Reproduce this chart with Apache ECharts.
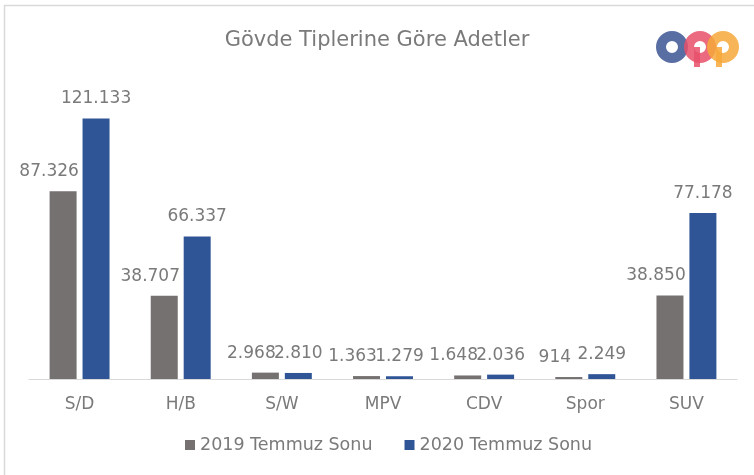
<!DOCTYPE html>
<html>
<head>
<meta charset="utf-8">
<script src="https://cdn.jsdelivr.net/npm/echarts@6/dist/echarts.min.js"></script>
<style>
  html, body { margin: 0; padding: 0; background: #fff; }
  #main { width: 754px; height: 475px; }
</style>
</head>
<body>
<div id="main"></div>
<script>
// gövde tipleri
let categories = ['S/D', 'H/B', 'S/W', 'MPV', 'CDV', 'Spor', 'SUV'];
let series_names = ['2019 Temmuz Sonu', '2020 Temmuz Sonu'];
let values_2019 = [87326, 38707, 2968, 1363, 1648, 914, 38850];
let values_2020 = [121133, 66337, 2810, 1279, 2036, 2249, 77178];

const font = 'DejaVu Sans';
const textColor = '#7a7a7a';

// 121133 -> 121.133
function trFormat(v) {
    return String(v).replace(/\B(?=(\d{3})+(?!\d))/g, '.');
}

function ring(cx, cy, r, r0, color) {
    return {
        type: 'ring',
        shape: { cx: cx, cy: cy, r: r, r0: r0 },
        style: { fill: color, opacity: 0.85 },
        silent: true
    };
}

let mainchart = echarts.init(document.getElementById('main'));

let chart_config = {
    backgroundColor: '#fff',
    animation: false,
    title: {
        text: 'Gövde Tiplerine Göre Adetler',
        left: 'center',
        top: 25,
        textStyle: {
            fontFamily: font,
            fontSize: 21,
            fontWeight: 'normal',
            color: textColor
        }
    },
    legend: {
        data: series_names,
        bottom: 16,
        left: 180,
        itemWidth: 10,
        itemHeight: 10,
        itemGap: 32,
        icon: 'rect',
        textStyle: {
            fontFamily: font,
            fontSize: 17.5,
            color: textColor
        }
    },
    grid: {
        left: 29,
        right: 17,
        top: 78,
        bottom: 96
    },
    xAxis: {
        type: 'category',
        data: categories,
        axisTick: { show: false },
        axisLine: { lineStyle: { color: '#d9d9d9', width: 1 } },
        axisLabel: {
            margin: 17,
            fontFamily: font,
            fontSize: 17,
            color: textColor
        }
    },
    yAxis: {
        type: 'value',
        min: 0,
        max: 140000,
        show: false,
        splitLine: { show: false }
    },
    series: [
        {
            name: series_names[0],
            type: 'bar',
            data: values_2019,
            barWidth: 27,
            barGap: '22%',
            itemStyle: { color: '#767171' },
            label: {
                show: true,
                position: 'top',
                distance: 11,
                offset: [-14, 0],
                formatter: function (p) { return trFormat(p.value); },
                fontFamily: font,
                fontSize: 17,
                color: textColor
            }
        },
        {
            name: series_names[1],
            type: 'bar',
            data: values_2020,
            barWidth: 27,
            itemStyle: { color: '#2f5597' },
            label: {
                show: true,
                position: 'top',
                distance: 11,
                formatter: function (p) { return trFormat(p.value); },
                fontFamily: font,
                fontSize: 17,
                color: textColor
            }
        }
    ],
    graphic: [
        {
            type: 'rect',
            shape: { x: 4.5, y: 5.5, width: 800, height: 500 },
            style: { fill: 'none', stroke: '#d9d9d9', lineWidth: 1.5 },
            silent: true,
            z: -10
        },
        // logo
        ring(672, 47, 16, 6, '#3c5593'),
        { type: 'rect', shape: { x: 694, y: 47, width: 6, height: 20 }, style: { fill: '#e8506a', opacity: 0.85 }, silent: true },
        ring(700, 47, 16, 6, '#e8506a'),
        { type: 'rect', shape: { x: 716, y: 47, width: 6, height: 20 }, style: { fill: '#f7a83a', opacity: 0.85 }, silent: true },
        ring(723, 47, 16, 6, '#f7a83a')
    ]
};

mainchart.setOption(chart_config);
</script>
</body>
</html>
